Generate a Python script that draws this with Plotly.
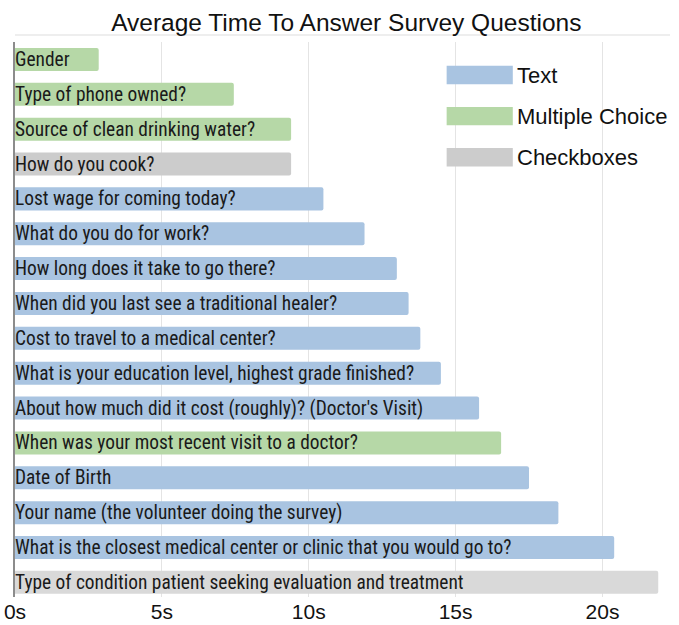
import plotly.graph_objects as go

questions = [
    "Gender",
    "Type of phone owned?",
    "Source of clean drinking water?",
    "How do you cook?",
    "Lost wage for coming today?",
    "What do you do for work?",
    "How long does it take to go there?",
    "When did you last see a traditional healer?",
    "Cost to travel to a medical center?",
    "What is your education level, highest grade finished?",
    "About how much did it cost (roughly)? (Doctor's Visit)",
    "When was your most recent visit to a doctor?",
    "Date of Birth",
    "Your name (the volunteer doing the survey)",
    "What is the closest medical center or clinic that you would go to?",
    "Type of condition patient seeking evaluation and treatment",
]
seconds = [2.85, 7.45, 9.4, 9.4, 10.5, 11.9, 13.0, 13.4, 13.8, 14.5,
           15.8, 16.55, 17.5, 18.5, 20.4, 21.9]
qtypes = ["Multiple Choice", "Multiple Choice", "Multiple Choice", "Checkboxes",
          "Text", "Text", "Text", "Text", "Text", "Text", "Text",
          "Multiple Choice", "Text", "Text", "Text", "Checkboxes"]

legend_names = ["Text", "Multiple Choice", "Checkboxes"]
tick_vals = [0, 5, 10, 15, 20]
tick_text = ["0s", "5s", "10s", "15s", "20s"]

type_colors = {"Text": "#a9c4e1", "Multiple Choice": "#b6d8a7", "Checkboxes": "#cccccc"}
# the last bar is drawn in a lighter grey in the original
color_override = {"Type of condition patient seeking evaluation and treatment": "#d9d9d9"}

label_font = "Liberation Sans Narrow, Arial Narrow, Roboto Condensed, sans-serif"
main_font = "Liberation Sans, Arial, sans-serif"

bar_colors = [color_override.get(q, type_colors[t]) for q, t in zip(questions, qtypes)]

fig = go.Figure()

fig.add_trace(
    go.Bar(
        x=seconds,
        y=questions,
        orientation="h",
        marker={"color": bar_colors, "line": {"width": 0}},
        showlegend=False,
        hoverinfo="x+y",
    )
)

# question labels sit inside the bars, starting at 0
for q in questions:
    fig.add_annotation(
        x=0, y=q, text=q, showarrow=False, xanchor="left", yanchor="middle",
        xshift=-2, font={"family": label_font, "size": 19.4, "color": "#1a1a1a"},
    )

# custom legend with wide swatches
for i, name in enumerate(legend_names):
    yc = 0.9405 - i * 0.074
    fig.add_shape(
        type="rect", xref="paper", yref="paper",
        x0=0.659, x1=0.76, y0=yc - 0.0166, y1=yc + 0.0166,
        fillcolor=type_colors[name], line={"width": 0},
    )
    fig.add_annotation(
        xref="paper", yref="paper", x=0.763, y=yc, text=name, showarrow=False,
        xanchor="left", yanchor="middle",
        font={"family": main_font, "size": 22, "color": "#111111"},
    )

# thin border line above the plot
fig.add_shape(
    type="line", xref="paper", yref="paper", x0=0, x1=1, y0=1.0126, y1=1.0126,
    line={"color": "#dddddd", "width": 1},
)

fig.update_xaxes(
    range=[0, 22.3],
    tickvals=tick_vals,
    ticktext=tick_text,
    showgrid=True,
    gridcolor="#e4e4e4",
    zeroline=False,
    showline=False,
    ticks="",
    automargin=False,
    tickfont={"family": main_font, "size": 21, "color": "#111111"},
)
fig.update_yaxes(
    type="category",
    categoryorder="array",
    categoryarray=questions,
    range=[15.42, -0.5],
    showticklabels=False,
    showgrid=False,
    showline=True,
    linecolor="#8c8c8c",
    linewidth=1.5,
    ticks="",
    automargin=False,
)

fig.update_layout(
    width=679,
    height=625,
    bargap=0.34,
    barcornerradius=2,
    plot_bgcolor="white",
    paper_bgcolor="white",
    title={
        "text": "Average Time To Answer Survey Questions",
        "x": 0.51, "xanchor": "center",
        "y": 1 - 22 / 625, "yanchor": "middle",
        "font": {"family": main_font, "size": 24.5, "color": "#111111"},
    },
    margin={"l": 15, "r": 9, "t": 42, "b": 28},
)

fig.write_html(
    "out.html",
    config={"displayModeBar": False},
    post_script="document.body.style.margin='0';",
)
